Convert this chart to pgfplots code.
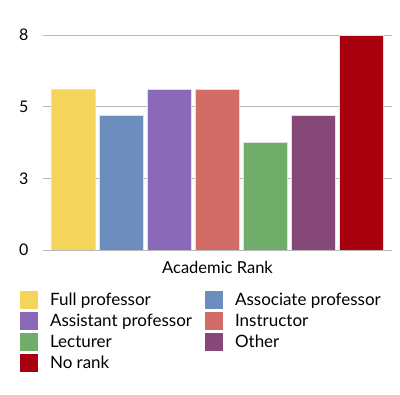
\documentclass[border=0pt]{standalone}
\usepackage{fontspec}
\setmainfont{Lato}
\usepackage{pgfplots}
\pgfplotsset{compat=1.18}
\definecolor{cfull}{RGB}{245,212,92}
\definecolor{cassoc}{RGB}{108,141,190}
\definecolor{cassist}{RGB}{138,106,184}
\definecolor{cinstr}{RGB}{210,108,102}
\definecolor{clect}{RGB}{112,172,106}
\definecolor{cother}{RGB}{134,72,118}
\definecolor{cnorank}{RGB}{168,0,14}
\begin{document}
\begin{tikzpicture}[x=1pt,y=1pt]
\path[use as bounding box] (-43,-145) rectangle (357,250);
\begin{axis}[
  at={(0,0)}, anchor=south west,
  scale only axis,
  width=349pt, height=215pt,
  xmin=-0.63, xmax=6.65,
  ymin=0, ymax=8,
  axis line style={draw=none},
  ytick={0,2.6667,5.3333,8},
  yticklabels={0,3,5,8},
  xtick=\empty,
  major tick length=0pt,
  ymajorgrids,
  grid style={draw=black!28, line width=0.8pt},
  yticklabel style={font=\fontsize{16}{18}\selectfont, xshift=-11pt},
  xlabel={Academic Rank},
  xlabel style={font=\fontsize{16.5}{19}\selectfont, at={(axis description cs:0.5,0)}, anchor=north, yshift=-8pt},
  ybar, bar width=44pt, bar shift=0pt,
  legend columns=2,
  legend cell align=left,
  legend style={draw=none, fill=none, at={(axis description cs:-0.075,-0.182)}, anchor=north west,
    font=\fontsize{17}{19}\selectfont,
    /tikz/every odd column/.append style={column sep=10pt},
    /tikz/every even column/.append style={column sep=11pt},
    row sep=3pt},
  legend image code/.code={\fill[#1,draw=none] (0pt,-9pt) rectangle (18pt,9pt);},
]
\addplot[fill=cfull, draw=black!12] coordinates {(0,6)};
\addplot[fill=cassoc, draw=black!12] coordinates {(1,5)};
\addplot[fill=cassist, draw=black!12] coordinates {(2,6)};
\addplot[fill=cinstr, draw=black!12] coordinates {(3,6)};
\addplot[fill=clect, draw=black!12] coordinates {(4,4)};
\addplot[fill=cother, draw=black!12] coordinates {(5,5)};
\addplot[fill=cnorank, draw=black!12] coordinates {(6,8)};
\legend{Full professor, Associate professor, Assistant professor, Instructor, Lecturer, Other, No rank}
\end{axis}
\end{tikzpicture}
\end{document}
